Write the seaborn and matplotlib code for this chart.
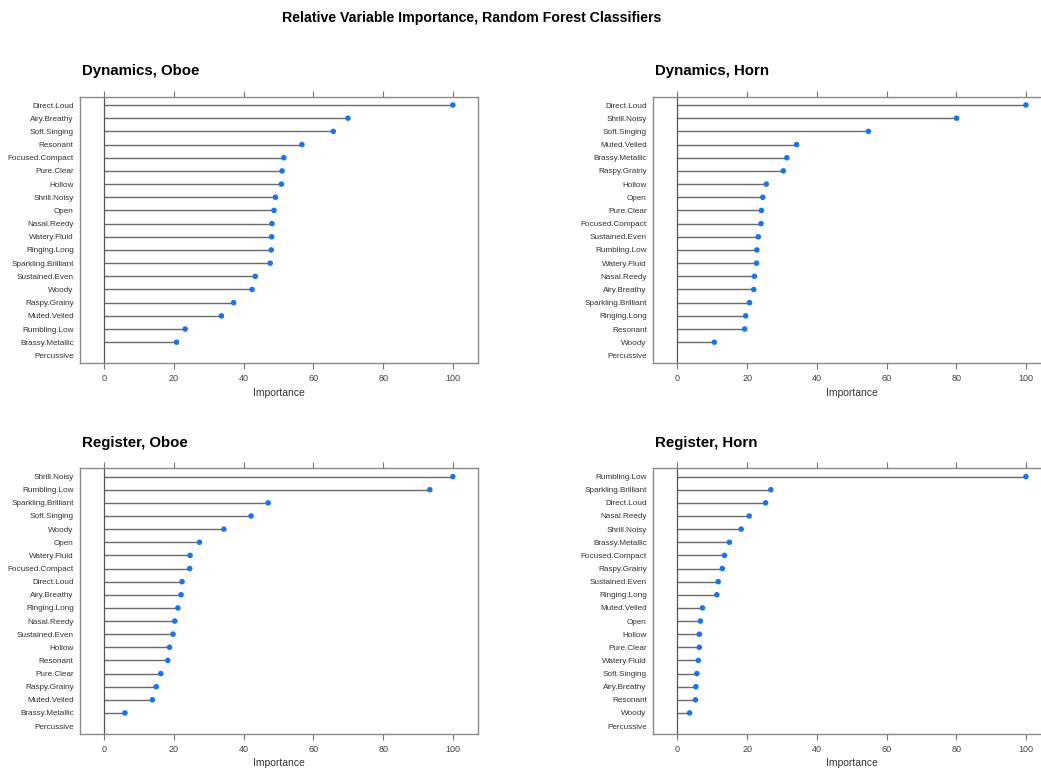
import matplotlib
matplotlib.use("Agg")
import matplotlib.pyplot as plt
import numpy as np
import pandas as pd
import seaborn as sns

# importance values (scaled 0-100); Percussive has no point
dyn_oboe_feats = ['Direct.Loud', 'Airy.Breathy', 'Soft.Singing', 'Resonant', 'Focused.Compact',
                  'Pure.Clear', 'Hollow', 'Shrill.Noisy', 'Open', 'Nasal.Reedy', 'Watery.Fluid',
                  'Ringing.Long', 'Sparkling.Brilliant', 'Sustained.Even', 'Woody', 'Raspy.Grainy',
                  'Muted.Veiled', 'Rumbling.Low', 'Brassy.Metallic', 'Percussive']
dyn_oboe_vals = [100, 69.9, 65.7, 56.7, 51.5, 51.0, 50.8, 49.1, 48.7, 48.1, 48.0,
                 47.9, 47.6, 43.3, 42.4, 37.1, 33.6, 23.2, 20.7, np.nan]

dyn_horn_feats = ['Direct.Loud', 'Shrill.Noisy', 'Soft.Singing', 'Muted.Veiled', 'Brassy.Metallic',
                  'Raspy.Grainy', 'Hollow', 'Open', 'Pure.Clear', 'Focused.Compact', 'Sustained.Even',
                  'Rumbling.Low', 'Watery.Fluid', 'Nasal.Reedy', 'Airy.Breathy', 'Sparkling.Brilliant',
                  'Ringing.Long', 'Resonant', 'Woody', 'Percussive']
dyn_horn_vals = [100, 80.1, 54.8, 34.2, 31.4, 30.4, 25.5, 24.5, 24.1, 24.0, 23.2,
                 22.8, 22.7, 22.1, 21.9, 20.7, 19.6, 19.3, 10.6, np.nan]

reg_oboe_feats = ['Shrill.Noisy', 'Rumbling.Low', 'Sparkling.Brilliant', 'Soft.Singing', 'Woody',
                  'Open', 'Watery.Fluid', 'Focused.Compact', 'Direct.Loud', 'Airy.Breathy',
                  'Ringing.Long', 'Nasal.Reedy', 'Sustained.Even', 'Hollow', 'Resonant',
                  'Pure.Clear', 'Raspy.Grainy', 'Muted.Veiled', 'Brassy.Metallic', 'Percussive']
reg_oboe_vals = [100, 93.4, 47.0, 42.1, 34.3, 27.3, 24.6, 24.5, 22.3, 22.0,
                 21.1, 20.2, 19.7, 18.7, 18.2, 16.2, 14.9, 13.8, 5.9, np.nan]

reg_horn_feats = ['Rumbling.Low', 'Sparkling.Brilliant', 'Direct.Loud', 'Nasal.Reedy', 'Shrill.Noisy',
                  'Brassy.Metallic', 'Focused.Compact', 'Raspy.Grainy', 'Sustained.Even',
                  'Ringing.Long', 'Muted.Veiled', 'Open', 'Hollow', 'Pure.Clear', 'Watery.Fluid',
                  'Soft.Singing', 'Airy.Breathy', 'Resonant', 'Woody', 'Percussive']
reg_horn_vals = [100, 26.8, 25.3, 20.6, 18.3, 14.9, 13.5, 12.9, 11.7, 11.3,
                 7.2, 6.6, 6.3, 6.3, 6.0, 5.6, 5.3, 5.2, 3.5, np.nan]

panel_titles = ['Dynamics, Oboe', 'Dynamics, Horn', 'Register, Oboe', 'Register, Horn']
x_ticks = [0, 20, 40, 60, 80, 100]

sns.set_style("white")
plt.rcParams['font.family'] = ['Liberation Sans', 'DejaVu Sans']

fig = plt.figure(figsize=(10.41, 7.70), dpi=100)

# axes boxes in figure fractions (right column runs off the page like the original)
boxes = [
    [0.0768, 0.5282, 0.3823, 0.3462],
    [0.6273, 0.5282, 0.3823, 0.3462],
    [0.0768, 0.0468, 0.3823, 0.3450],
    [0.6273, 0.0468, 0.3823, 0.3450],
]
panels = [(dyn_oboe_feats, dyn_oboe_vals), (dyn_horn_feats, dyn_horn_vals),
          (reg_oboe_feats, reg_oboe_vals), (reg_horn_feats, reg_horn_vals)]

for box, (feats, vals), title in zip(boxes, panels, panel_titles):
    ax = fig.add_axes(box)
    df = pd.DataFrame({'feature': feats, 'importance': vals})
    ax.hlines(y=df['feature'], xmin=0, xmax=df['importance'].fillna(0), color='#6a6a6a',
              lw=1.0, zorder=2)
    ax.axvline(0, color='#555555', lw=0.9, zorder=2)
    sns.scatterplot(data=df.dropna(), x='importance', y='feature', ax=ax, color='#1a74f0',
                    s=16, edgecolor='none', zorder=3, legend=False)
    ax.set_xlim(-7, 107.2)
    ax.set_ylim(len(feats) - 1 + 0.6, -0.63)
    ax.set_xticks(x_ticks)
    ax.tick_params(axis='x', which='both', top=True, bottom=True, direction='out',
                   length=4, width=0.8, color='#777777', labelsize=6.5,
                   labelcolor='#444444', pad=4)
    ax.tick_params(axis='y', length=0, labelsize=5.9, labelcolor='#333333', pad=4.5)
    ax.set_xlabel('Importance', fontsize=7.5, color='#333333', labelpad=3)
    ax.set_ylabel('')
    for sp in ax.spines.values():
        sp.set_visible(True)
        sp.set_color('#8a8a8a')
        sp.set_linewidth(1.0)
    fig.text(box[0] + 0.0019, box[1] + box[3] + 0.033, title, fontsize=10.8,
             fontweight='bold', va='center', ha='left', color='black')

fig.text(472 / 1041, 1 - 18 / 770, 'Relative Variable Importance, Random Forest Classifiers',
         fontsize=10.2, fontweight='bold', ha='center', va='center', color='black')

plt.savefig('out.png', dpi=100)
